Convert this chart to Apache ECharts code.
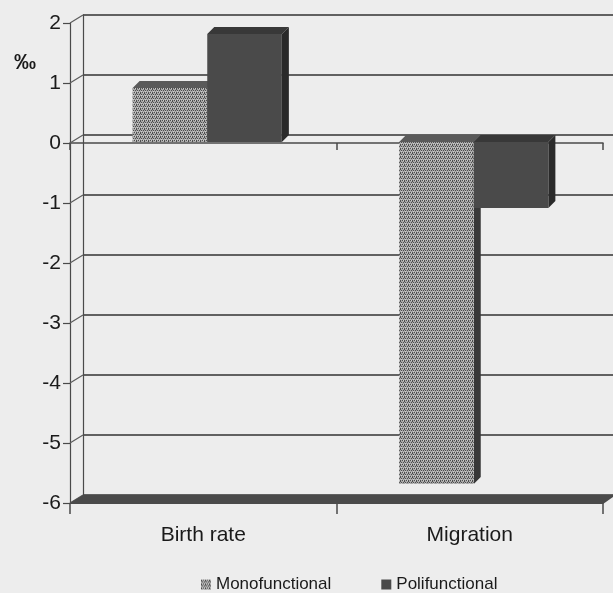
<!DOCTYPE html>
<html>
<head>
<meta charset="utf-8">
<script src="https://cdn.jsdelivr.net/npm/echarts@6/dist/echarts.min.js"></script>
<style>
  html, body { margin: 0; padding: 0; background: #ededed; }
  #chart { width: 613px; height: 593px; }
</style>
</head>
<body>
<div id="chart"></div>
<script>
// Change in rates (per mille) by settlement type
const categories = ['Birth rate', 'Migration'];
const seriesNames = ['Monofunctional', 'Polifunctional'];
const monofunctional = [0.9, -5.7];
const polifunctional = [1.8, -1.1];
const yTicks = [-6, -5, -4, -3, -2, -1, 0, 1, 2];

// 3D look: offset of the back wall and of each column's depth
const WALL_DX = 13, WALL_DY = -8;
const BAR_DX = 7, BAR_DY = -7;
const BAR_SHIFT_X = 4, BAR_SHIFT_Y = -1;

// Dotted fill for the light columns
function makeDotPattern() {
  const c = document.createElement('canvas');
  c.width = 4; c.height = 4;
  const g = c.getContext('2d');
  g.fillStyle = '#a9a9a9';
  g.fillRect(0, 0, 4, 4);
  g.fillStyle = '#4e4e4e';
  [[0, 0], [2, 0], [1, 2], [3, 2], [0, 1]].forEach(p => g.fillRect(p[0], p[1], 1, 1));
  g.fillStyle = '#cdcdcd';
  g.fillRect(3, 0, 1, 1);
  g.fillRect(1, 3, 1, 1);
  return c;
}
const dotFill = { image: makeDotPattern(), repeat: 'repeat' };

const faces = [
  { front: dotFill, top: '#5a5a5a', side: '#383838' },
  { front: '#4a4a4a', top: '#383838', side: '#2a2a2a' }
];

function columnRenderer(slot) {
  return function (params, api) {
    const idx = api.value(0);
    const v = api.value(1);
    const base = api.coord([idx, 0]);
    const end = api.coord([idx, v]);
    const w = api.size([1, 0])[0] * 0.28;
    const cx = base[0] + BAR_SHIFT_X;
    const x0 = slot === 0 ? cx - w : cx;
    const x1 = x0 + w;
    const yA = Math.min(base[1], end[1]) + BAR_SHIFT_Y;
    const yB = Math.max(base[1], end[1]) + BAR_SHIFT_Y;
    const f = faces[slot];
    return {
      type: 'group',
      children: [
        {
          type: 'polygon',
          shape: { points: [[x1, yA], [x1 + BAR_DX, yA + BAR_DY], [x1 + BAR_DX, yB + BAR_DY], [x1, yB]] },
          style: { fill: f.side }
        },
        {
          type: 'polygon',
          shape: { points: [[x0, yA], [x1, yA], [x1 + BAR_DX, yA + BAR_DY], [x0 + BAR_DX, yA + BAR_DY]] },
          style: { fill: f.top }
        },
        {
          type: 'rect',
          shape: { x: x0, y: yA, width: w, height: yB - yA },
          style: { fill: f.front }
        }
      ]
    };
  };
}

const chart = echarts.init(document.getElementById('chart'), null, { renderer: 'canvas' });

const axisColor = '#4a4a4a';
const textColor = '#1a1a1a';
const fontFamily = "'Liberation Sans', Arial, sans-serif";

chart.setOption({
  backgroundColor: '#ededed',
  animation: false,
  title: {
    text: '‰',
    left: 9,
    top: 47,
    textStyle: { fontSize: 22, fontWeight: 'bold', color: textColor, fontFamily: fontFamily }
  },
  legend: {
    data: [
      { name: seriesNames[0], itemStyle: { color: dotFill } },
      { name: seriesNames[1], itemStyle: { color: '#4a4a4a' } }
    ],
    icon: 'rect',
    left: 196,
    top: 571,
    itemWidth: 10,
    itemHeight: 10,
    itemGap: 50,
    textStyle: { fontSize: 17, color: textColor, fontFamily: fontFamily }
  },
  grid: [
    { left: 70, right: 10, top: 23, bottom: 90 },
    { left: 70 + WALL_DX, right: -20, top: 23 + WALL_DY, bottom: 90 - WALL_DY }
  ],
  xAxis: [
    {
      gridIndex: 0, type: 'category', data: categories, position: 'bottom',
      axisLine: { onZero: true, lineStyle: { color: axisColor, width: 1.5 } },
      axisTick: { show: true, length: 7, lineStyle: { color: axisColor, width: 1.5 } },
      axisLabel: { show: false },
      splitLine: { show: false }
    },
    {
      gridIndex: 0, type: 'category', data: categories, position: 'bottom',
      axisLine: { show: false, onZero: false },
      axisTick: { show: true, length: 11, lineStyle: { color: axisColor, width: 1.5 } },
      axisLabel: { margin: 22, fontSize: 21, color: textColor, fontFamily: fontFamily },
      splitLine: { show: false }
    },
    {
      gridIndex: 1, type: 'category', data: categories, show: false
    }
  ],
  yAxis: [
    {
      gridIndex: 0, type: 'value', min: -6, max: 2, interval: 1,
      axisLine: { show: true, lineStyle: { color: axisColor, width: 1.2 } },
      axisTick: { show: true, length: 7, lineStyle: { color: axisColor, width: 1.2 } },
      axisLabel: { margin: 9, fontSize: 21, color: textColor, fontFamily: fontFamily },
      splitLine: { show: false }
    },
    {
      gridIndex: 1, type: 'value', min: -6, max: 2, interval: 1,
      axisLine: { show: true, lineStyle: { color: axisColor, width: 1.2 } },
      axisTick: { show: false },
      axisLabel: { show: false },
      splitLine: { show: true, lineStyle: { color: '#616161', width: 2 } }
    }
  ],
  series: [
    {
      name: 'wall-links',
      type: 'custom',
      xAxisIndex: 0, yAxisIndex: 0,
      silent: true,
      z: 1,
      data: yTicks.map(v => [0, v]),
      renderItem: function (params, api) {
        const y = api.coord([0, api.value(1)])[1];
        const x = params.coordSys.x;
        return {
          type: 'line',
          shape: { x1: x, y1: y, x2: x + WALL_DX, y2: y + WALL_DY },
          style: { stroke: '#5c5c5c', lineWidth: 1.2 }
        };
      }
    },
    {
      name: 'floor',
      type: 'custom',
      xAxisIndex: 0, yAxisIndex: 0,
      silent: true,
      z: 1,
      data: [[0, -6]],
      renderItem: function (params, api) {
        const y = api.coord([0, api.value(1)])[1];
        const cs = params.coordSys;
        const xl = cs.x, xr = cs.x + cs.width;
        return {
          type: 'polygon',
          shape: { points: [[xl - 2, y + 1], [xr, y + 1], [xr + WALL_DX, y + WALL_DY], [xl + WALL_DX, y + WALL_DY]] },
          style: { fill: '#4a4a4a' }
        };
      }
    },
    {
      name: seriesNames[0],
      type: 'custom',
      xAxisIndex: 0, yAxisIndex: 0,
      itemStyle: { color: dotFill },
      data: monofunctional.map((v, i) => [i, v]),
      renderItem: columnRenderer(0),
      z: 3
    },
    {
      name: seriesNames[1],
      type: 'custom',
      xAxisIndex: 0, yAxisIndex: 0,
      itemStyle: { color: '#4a4a4a' },
      data: polifunctional.map((v, i) => [i, v]),
      renderItem: columnRenderer(1),
      z: 3
    }
  ]
});
</script>
</body>
</html>
